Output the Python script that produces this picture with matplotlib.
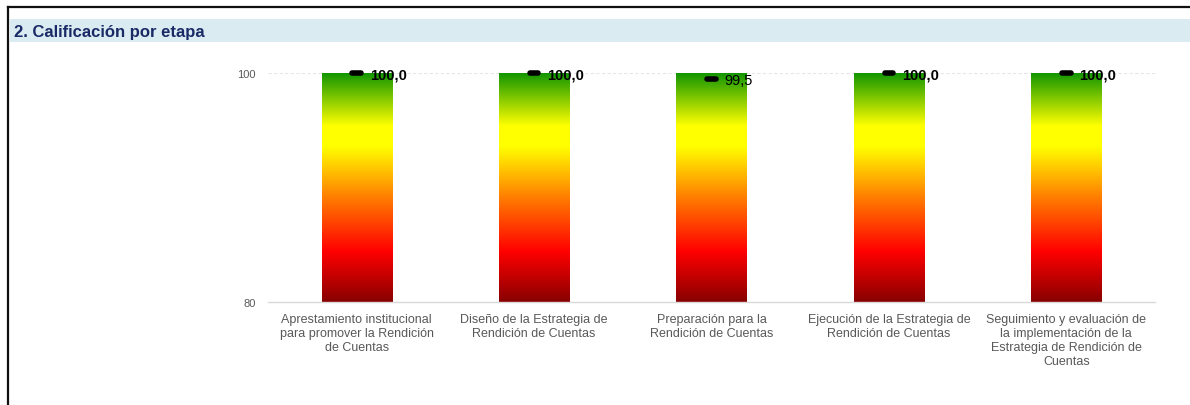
import numpy as np
import matplotlib
matplotlib.use("Agg")
import matplotlib.pyplot as plt
from matplotlib.colors import LinearSegmentedColormap
from matplotlib.patches import Rectangle
from matplotlib.lines import Line2D

plt.rcParams['font.family'] = ['Liberation Sans', 'DejaVu Sans']

title = "2. Calificación por etapa"
categories = [
    "Aprestamiento institucional\npara promover la Rendición\nde Cuentas",
    "Diseño de la Estrategia de\nRendición de Cuentas",
    "Preparación para la\nRendición de Cuentas",
    "Ejecución de la Estrategia de\nRendición de Cuentas",
    "Seguimiento y evaluación de\nla implementación de la\nEstrategia de Rendición de\nCuentas",
]
scale_max = [100, 100, 100, 100, 100]
values = [100.0, 100.0, 99.5, 100.0, 100.0]
value_labels = ["100,0", "100,0", "99,5", "100,0", "100,0"]
y_min, y_max = 80, 100
y_ticks = [80, 100]

W, H = 1190, 406
fig = plt.figure(figsize=(W / 100, H / 100), dpi=100)

# frame lines
fig.add_artist(Line2D([8 / W, 1.0], [1 - 8 / H, 1 - 8 / H], color="#111111", lw=1.6))
fig.add_artist(Line2D([8 / W, 8 / W], [0, 1 - 8 / H], color="#111111", lw=1.6))
# header band
fig.add_artist(Rectangle((10 / W, 1 - 43 / H), 1 - 10 / W, 23 / H,
                         transform=fig.transFigure, color="#DAEBF2", lw=0))
fig.text(14 / W, 1 - 32.5 / H, title, fontsize=12, fontweight="bold",
         color="#1A2A66", va="center", ha="left")

ax = fig.add_axes([268 / W, 1 - 303 / H, 887 / W, 229 / H])

cmap = LinearSegmentedColormap.from_list("g", [
    (0.0, "#880000"),
    (0.22, "#ff0000"),
    (0.45, "#ff7a00"),
    (0.68, "#ffff00"),
    (0.77, "#ffff00"),
    (1.0, "#139600"),
])
grad = np.linspace(0, 1, 256).reshape(-1, 1)
bw = 0.395
for i, top in enumerate(scale_max):
    ax.imshow(grad, cmap=cmap, origin="lower", aspect="auto",
              extent=[i - bw / 2, i + bw / 2, y_min, top], zorder=2,
              interpolation="bilinear")
ax.set_xlim(-0.5, len(categories) - 0.5)
ax.set_ylim(y_min, y_max)

half = 0.024
for i, v in enumerate(values):
    ax.plot([i - half, i + half], [v, v], color="black", lw=4,
            solid_capstyle="round", zorder=4, clip_on=False)
for i, (v, lab) in enumerate(zip(values, value_labels)):
    ax.annotate(lab, (i, v), xytext=(13, -1.5), textcoords="offset pixels",
                fontsize=10.5, fontweight="bold" if v >= 100 else "normal",
                color="black", va="center", ha="left", zorder=5)

ax.axhline(100, color="#e6e6e6", lw=0.8, ls=(0, (3, 2)), zorder=1)
for s in ["top", "right", "left"]:
    ax.spines[s].set_visible(False)
ax.spines["bottom"].set_color("#d9d9d9")
ax.spines["bottom"].set_linewidth(1)
ax.set_yticks(y_ticks)
ax.set_yticklabels([str(t) for t in y_ticks], fontsize=8, color="#595959")
ax.set_xticks(range(len(categories)))
ax.set_xticklabels(categories, fontsize=9, color="#595959", va="top",
                   linespacing=1.2)
ax.tick_params(axis="both", length=0)
ax.tick_params(axis="y", pad=9)
ax.tick_params(axis="x", pad=8)

fig.savefig("out.png", dpi=100)
